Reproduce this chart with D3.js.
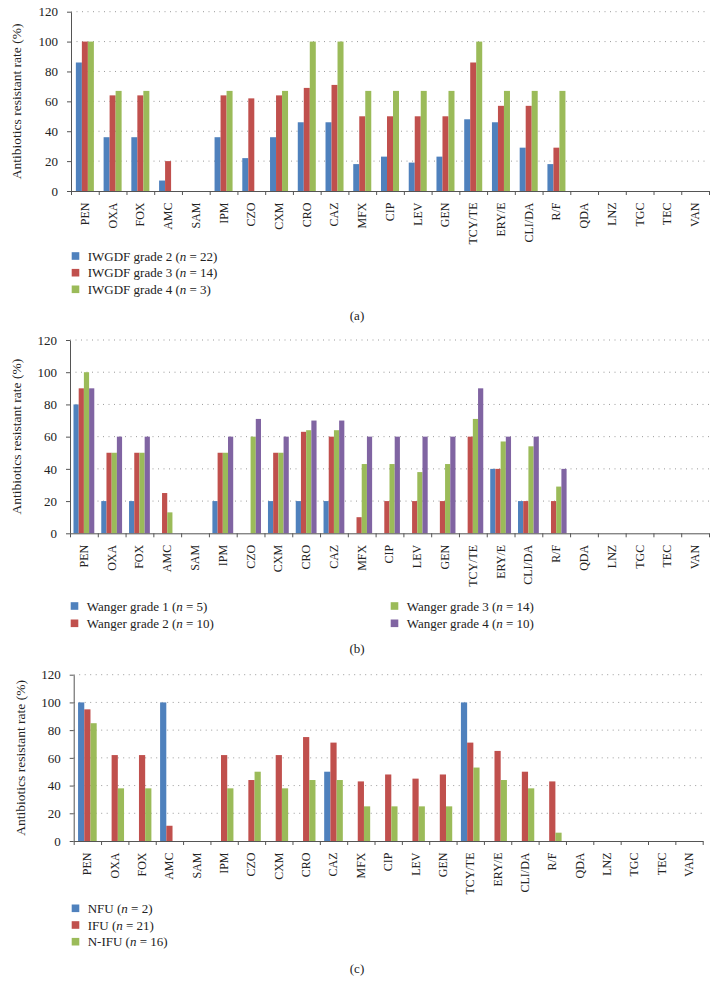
<!DOCTYPE html>
<html>
<head>
<meta charset="utf-8">
<script src="https://cdn.jsdelivr.net/npm/d3@7"></script>
<style>
  html, body { margin: 0; padding: 0; background: #fff; }
  svg { display: block; }
  text { font-family: "Liberation Serif", "Times New Roman", serif; fill: #222; }
</style>
</head>
<body>
<svg id="chart" width="718" height="995"></svg>
<script>
// ---------- DATA ----------
const categories = ["PEN","OXA","FOX","AMC","SAM","IPM","CZO","CXM","CRO","CAZ","MFX","CIP","LEV","GEN","TCY/TE","ERY/E","CLI/DA","R/F","QDA","LNZ","TGC","TEC","VAN"];
const yTicks = [0, 20, 40, 60, 80, 100, 120];
const yTitle = "Antibiotics resistant rate (%)";

// Panel (a)
const iwgdfGrade2 = [86,36,36,7,0,36,22,36,46,46,18,23,19,23,48,46,29,18,0,0,0,0,0];
const iwgdfGrade3 = [100,64,64,20,0,64,62,64,69,71,50,50,50,50,86,57,57,29,0,0,0,0,0];
const iwgdfGrade4 = [100,67,67,0,0,67,0,67,100,100,67,67,67,67,100,67,67,67,0,0,0,0,0];
const seriesA = ["IWGDF grade 2", "IWGDF grade 3", "IWGDF grade 4"];
const nA = ["22", "14", "3"];

// Panel (b)
const wangerGrade1 = [80,20,20,0,0,20,0,20,20,20,0,0,0,0,0,40,20,0,0,0,0,0,0];
const wangerGrade2 = [90,50,50,25,0,50,0,50,63,60,10,20,20,20,60,40,20,20,0,0,0,0,0];
const wangerGrade3 = [100,50,50,13,0,50,60,50,64,64,43,43,38,43,71,57,54,29,0,0,0,0,0];
const wangerGrade4 = [90,60,60,0,0,60,71,60,70,70,60,60,60,60,90,60,60,40,0,0,0,0,0];
const seriesB = ["Wanger grade 1", "Wanger grade 2", "Wanger grade 3", "Wanger grade 4"];
const nB = ["5", "10", "14", "10"];

// Panel (c)
const nfu  = [100,0,0,100,0,0,0,0,0,50,0,0,0,0,100,0,0,0,0,0,0,0,0];
const ifu  = [95,62,62,11,0,62,44,62,75,71,43,48,45,48,71,65,50,43,0,0,0,0,0];
const nIfu = [85,38,38,0,0,38,50,38,44,44,25,25,25,25,53,44,38,6,0,0,0,0,0];
const seriesC = ["NFU", "IFU", "N-IFU"];
const nC = ["2", "21", "16"];

const colors = ["#4f81bd", "#c0504d", "#9bbb59", "#8064a2"];

// ---------- DRAW ----------
const svg = d3.select("#chart");

function drawPanel(cfg) {
  const g = svg.append("g");
  const x = d3.scaleBand().domain(categories).range([cfg.left, cfg.right])
    .paddingInner(0).paddingOuter(0);
  const xi = d3.scaleBand().domain(d3.range(cfg.values.length)).range([0, x.bandwidth()])
    .paddingOuter(cfg.pad).paddingInner(0);
  const y = d3.scaleLinear().domain([0, 120]).range([cfg.bottom, cfg.top]);

  // gridlines
  g.append("g").selectAll("line").data(yTicks.filter(d => d > 0)).join("line")
    .attr("x1", cfg.left).attr("x2", cfg.right)
    .attr("y1", d => y(d)).attr("y2", d => y(d))
    .attr("stroke", "#9a9a9a").attr("stroke-width", 1)
    .attr("stroke-dasharray", "1,4.5");

  // bars
  cfg.values.forEach((vals, si) => {
    g.append("g").selectAll("rect").data(vals.map((v, i) => ({ c: categories[i], v })))
      .join("rect")
      .filter(d => d.v > 0)
      .attr("x", d => x(d.c) + xi(si))
      .attr("width", xi.bandwidth())
      .attr("y", d => y(d.v))
      .attr("height", d => y(0) - y(d.v))
      .attr("fill", colors[si]);
  });

  // y axis
  const ya = g.append("g").attr("transform", `translate(${cfg.left},0)`)
    .call(d3.axisLeft(y).tickValues(yTicks).tickSize(4).tickPadding(9).tickSizeOuter(0));
  ya.selectAll("text").style("font-size", "13px").style("font-family", "'Liberation Serif', serif").attr("fill", "#222");
  ya.selectAll("line, path").attr("stroke", "#555");

  // x axis boundary ticks
  const xb = d3.scaleLinear().domain([0, categories.length]).range([cfg.left, cfg.right]);
  const xa = g.append("g").attr("transform", `translate(0,${cfg.bottom})`)
    .call(d3.axisBottom(xb).tickValues(d3.range(categories.length + 1)).tickFormat("").tickSize(4).tickSizeOuter(0));
  xa.selectAll("line, path").attr("stroke", "#555");

  // x labels
  const xl = g.append("g").attr("transform", `translate(0,${cfg.bottom})`)
    .call(d3.axisBottom(x).tickSize(0));
  xl.select(".domain").remove();
  xl.selectAll("text")
    .attr("transform", "rotate(-90)")
    .attr("x", -11.5).attr("y", 0).attr("dy", "0.33em")
    .style("text-anchor", "end")
    .style("font-size", "12px")
    .style("font-family", "'Liberation Serif', serif")
    .attr("fill", "#222");

  // y title
  g.append("text")
    .attr("transform", `translate(${cfg.titleX},${(cfg.top + cfg.bottom) / 2}) rotate(-90)`)
    .attr("text-anchor", "middle").attr("dy", "0.35em")
    .style("font-size", "13.5px")
    .text(yTitle);

  // legend
  cfg.legend.forEach((it, i) => {
    const lg = g.append("g").attr("transform", `translate(${it.x},${it.y})`);
    lg.append("rect").attr("x", 0).attr("y", -3.8).attr("width", 7.6).attr("height", 7.6).attr("fill", colors[i]);
    const t = lg.append("text").attr("x", 16).attr("dy", "0.35em").style("font-size", "13px");
    t.append("tspan").text(cfg.names[i] + " (");
    t.append("tspan").style("font-style", "italic").text("n");
    t.append("tspan").text(" = " + cfg.ns[i] + ")");
  });

  // caption
  svg.append("text").attr("x", 357).attr("y", cfg.captionY).attr("dy", "0.35em")
    .attr("text-anchor", "middle").style("font-size", "13px").text(cfg.caption);
}

drawPanel({
  left: 71, right: 709, top: 11.7, bottom: 191, titleX: 16, pad: 0.81,
  values: [iwgdfGrade2, iwgdfGrade3, iwgdfGrade4], names: seriesA, ns: nA,
  legend: [{x: 71.7, y: 256}, {x: 71.7, y: 272.7}, {x: 71.7, y: 289.3}],
  caption: "(a)", captionY: 315
});

drawPanel({
  left: 70, right: 709, top: 340, bottom: 533.3, titleX: 16, pad: 0.67,
  values: [wangerGrade1, wangerGrade2, wangerGrade3, wangerGrade4], names: seriesB, ns: nB,
  legend: [{x: 70.7, y: 606}, {x: 70.7, y: 623.3}, {x: 390.7, y: 606}, {x: 390.7, y: 623.3}],
  caption: "(b)", captionY: 648
});

drawPanel({
  left: 73.7, right: 702.7, top: 674.7, bottom: 841, titleX: 20.7, pad: 0.7,
  values: [nfu, ifu, nIfu], names: seriesC, ns: nC,
  legend: [{x: 71.7, y: 908.3}, {x: 71.7, y: 925}, {x: 71.7, y: 941.7}],
  caption: "(c)", captionY: 968
});
</script>
</body>
</html>
